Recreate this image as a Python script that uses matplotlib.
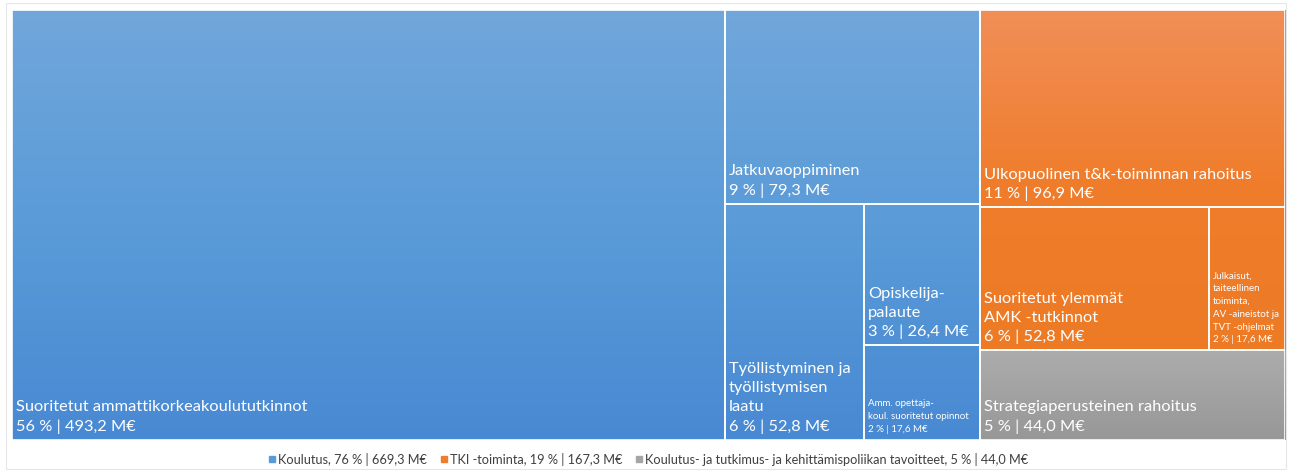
import matplotlib
matplotlib.use("Agg")
import matplotlib.pyplot as plt
import numpy as np
from matplotlib.colors import LinearSegmentedColormap
from matplotlib.lines import Line2D

# ---------------- data ----------------
parents = ["Koulutus", "TKI -toiminta", "Koulutus- ja tutkimus- ja kehittämispoliikan tavoitteet"]
parent_values = [669.3, 167.3, 44.0]
parent_pcts = [76, 19, 5]

koulutus_names = ["Suoritetut ammattikorkeakoulututkinnot", "Jatkuvaoppiminen",
                  "Työllistyminen ja\ntyöllistymisen\nlaatu", "Opiskelija-\npalaute",
                  "Amm. opettaja-\nkoul. suoritetut opinnot"]
koulutus_values = [493.2, 79.3, 52.8, 26.4, 17.6]
koulutus_pcts = [56, 9, 6, 3, 2]

tki_names = ["Ulkopuolinen t&k-toiminnan rahoitus", "Suoritetut ylemmät\nAMK -tutkinnot",
             "Julkaisut,\ntaiteellinen\ntoiminta,\nAV -aineistot ja\nTVT -ohjelmat"]
tki_values = [96.9, 52.8, 17.6]
tki_pcts = [11, 6, 2]

strat_names = ["Strategiaperusteinen rahoitus"]
strat_values = [44.0]
strat_pcts = [5]

children = [
    (koulutus_names, koulutus_values, koulutus_pcts),
    (tki_names, tki_values, tki_pcts),
    (strat_names, strat_values, strat_pcts),
]

# colours (top, middle, bottom) per parent
grad_colors = [("#71a7db", "#5a9bd8", "#4889d3"),
               ("#f18f58", "#ef7d2c", "#ed7a24"),
               ("#acacac", "#a2a2a2", "#979797")]
legend_colors = ["#5b9bd5", "#ed7d31", "#a5a5a5"]
small_labels = {"Amm. opettaja-\nkoul. suoritetut opinnot",
                "Julkaisut,\ntaiteellinen\ntoiminta,\nAV -aineistot ja\nTVT -ohjelmat"}

FONT = ["Lato", "DejaVu Sans"]


def fmt(v):
    return f"{v:.1f}".replace(".", ",")


def slice_layout(values, x, y, w, h):
    """Take the first item off along the longer side, recurse on the rest."""
    rects = []
    vals = list(values)
    while vals:
        if len(vals) == 1:
            rects.append((x, y, w, h))
            break
        frac = vals[0] / sum(vals)
        if w >= h:
            cw = w * frac
            rects.append((x, y, cw, h))
            x += cw
            w -= cw
        else:
            ch = h * frac
            rects.append((x, y, w, ch))
            y += ch
            h -= ch
        vals = vals[1:]
    return rects


W, H = 1273.0, 430.0
fig = plt.figure(figsize=(12.9, 4.71), dpi=100)
fig.patch.set_facecolor("white")
ax = fig.add_axes([12 / 1290, 31 / 471, W / 1290, H / 471])
ax.set_xlim(0, W)
ax.set_ylim(H, 0)
ax.axis("off")

parent_rects = slice_layout(parent_values, 0, 0, W, H)
for pi, (prect, (names, vals, pcts)) in enumerate(zip(parent_rects, children)):
    px, py, pw, ph = prect
    cmap = LinearSegmentedColormap.from_list(f"g{pi}", list(grad_colors[pi]))
    rects = slice_layout(vals, px, py, pw, ph)
    for name, v, p, (x, y, w, h) in zip(names, vals, pcts, rects):
        t0 = (y - py) / ph
        t1 = (y + h - py) / ph
        grad = np.linspace(t0, t1, 256).reshape(-1, 1)
        ax.imshow(grad, cmap=cmap, vmin=0, vmax=1, extent=(x, x + w, y + h, y),
                  aspect="auto", interpolation="bilinear", zorder=1)
        ax.add_patch(plt.Rectangle((x, y), w, h, fill=False, edgecolor="white",
                                   linewidth=1.2, zorder=2))
        label = f"{name}\n{p} % | {fmt(v)} M€"
        if name in small_labels:
            ax.text(x + 4, y + h - 6, label, color="white", fontsize=7.0,
                    family=FONT, va="bottom", ha="left", linespacing=1.55, zorder=3)
        else:
            ax.text(x + 4, y + h - 6, label, color="white", fontsize=11.8,
                    family=FONT, va="bottom", ha="left", linespacing=1.45, zorder=3)

# outer light frame
fig.add_artist(plt.Rectangle((6 / 1290, 2 / 471), 1280 / 1290, 466 / 471,
                             transform=fig.transFigure, fill=False,
                             edgecolor="#e6e6e6", linewidth=0.8))

handles = [Line2D([0], [0], marker="s", linestyle="none", markersize=4.5,
                  markerfacecolor=c, markeredgecolor=c) for c in legend_colors]
labels = [f"{n}, {p} % | {fmt(v)} M€" for n, p, v in zip(parents, parent_pcts, parent_values)]
fig.legend(handles, labels, loc="center", bbox_to_anchor=(0.502, 1 - 459 / 471), ncol=3,
           frameon=False, prop={"family": FONT, "size": 9.2}, labelcolor="#404040",
           handletextpad=0.1, columnspacing=0.9, handlelength=0.8)

fig.savefig("out.png", dpi=100, facecolor="white")
